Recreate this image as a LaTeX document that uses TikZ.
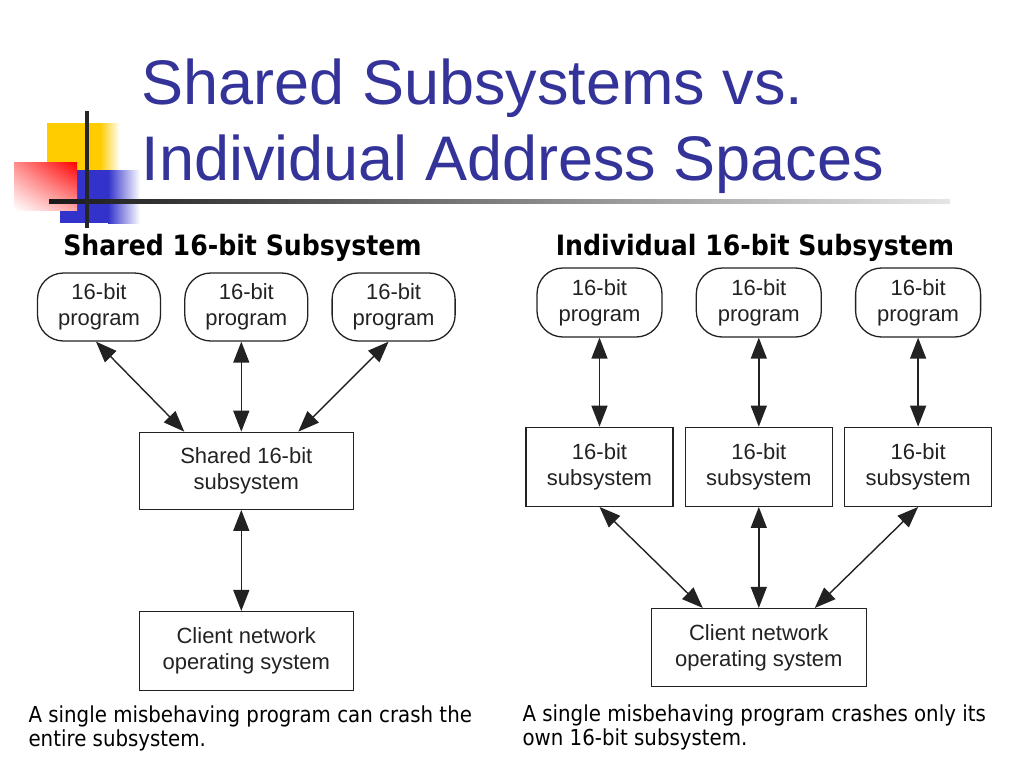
\documentclass[tikz,border=0pt]{standalone}
\usepackage{fontspec}
\setmainfont{Liberation Sans}
\newfontfamily\notizfont[FakeStretch=0.9]{DejaVu Sans}
\usetikzlibrary{positioning,arrows.meta,shadings}
\definecolor{titelblau}{RGB}{51,51,153}
\definecolor{logogelb}{RGB}{255,204,0}
\definecolor{logoblau}{RGB}{51,51,204}
\definecolor{strich}{RGB}{34,34,34}

\begin{document}
\begin{tikzpicture}
  [x=1pt,y=-1pt,
  prog/.style={rectangle, minimum width=123pt, minimum height=68pt, rounded corners=26pt, line width=1.3pt, draw=strich, text=strich, align=center, font=\fontsize{22}{26}\selectfont},
  kasten/.style={rectangle, minimum height=78pt, line width=1.3pt, draw=strich, text=strich, align=center, font=\fontsize{22}{26}\selectfont},
  verbindung/.style={line width=1.4pt, draw=strich, {Triangle[length=21pt,width=16pt]}-{Triangle[length=21pt,width=16pt]}},
  kopf/.style={anchor=base, font=\notizfont\bfseries\fontsize{28}{32}\selectfont},
  notiz/.style={anchor=base west, align=left, font=\notizfont\fontsize{22}{24}\selectfont}]
  \useasboundingbox (0,0) rectangle (1024,768);
  % logo
  \fill[logogelb] (47,123) rectangle (100,195);
  \shade[left color=logogelb, right color=white] (100,123) rectangle (120,195);
  \fill[logoblau] (60,170) rectangle (108,223);
  \shade[left color=logoblau, right color=white] (108,170) rectangle (140,223);
  \shade[upper left=red!45, upper right=red, lower left=white, lower right=red!35] (14,162) rectangle (77,210);
  \shade[left color=black!90, right color=black!10] (49,199) rectangle (950,203);
  \fill[black!85] (85,111) rectangle (89,228);
  \node (Titel) [anchor=base west, align=left, text=titelblau, font=\fontsize{63}{76}\selectfont] at (138,180) {Shared Subsystems vs.\\Individual Address Spaces};
  % shared
  \node (Kopf1) [kopf] at (242.5,255) {Shared 16-bit Subsystem};
  \node (Prog1) [prog] at (99,307) {16-bit\\program};
  \node (Prog2) [prog, right=23pt of Prog1] {16-bit\\program};
  \node (Prog3) [prog, right=23pt of Prog2] {16-bit\\program};
  \node (Shared) [kasten, minimum width=214pt, minimum height=77pt, below=90pt of Prog2] {Shared 16-bit\\subsystem};
  \node (Client1) [kasten, minimum width=214pt, minimum height=79pt, below=101pt of Shared] {Client network\\operating system};
  \draw[verbindung] ([xshift=-3pt]Prog1.south) -- ([xshift=-62pt]Shared.north);
  \draw[verbindung] ([xshift=-5pt]Prog2.south) -- ([xshift=-5pt]Shared.north);
  \draw[verbindung] ([xshift=-5pt]Prog3.south) -- ([xshift=52pt]Shared.north);
  \draw[verbindung] ([xshift=-5pt]Shared.south) -- ([xshift=-5pt]Client1.north);
  \node (Notiz1) [notiz] at (25,746) {A single misbehaving program can crash the\\entire subsystem.};
  % individual
  \node (Kopf2) [kopf] at (755,255) {Individual 16-bit Subsystem};
  \node (Prog4) [prog, minimum width=125pt, minimum height=69pt] at (599.5,302.5) {16-bit\\program};
  \node (Prog5) [prog, minimum width=125pt, minimum height=69pt, right=33pt of Prog4] {16-bit\\program};
  \node (Prog6) [prog, minimum width=125pt, minimum height=69pt, right=33pt of Prog5] {16-bit\\program};
  \node (Sub1) [kasten, minimum width=147pt, minimum height=79pt, below=89pt of Prog4] {16-bit\\subsystem};
  \node (Sub2) [kasten, minimum width=147pt, minimum height=79pt, below=89pt of Prog5] {16-bit\\subsystem};
  \node (Sub3) [kasten, minimum width=147pt, minimum height=79pt, below=89pt of Prog6] {16-bit\\subsystem};
  \node (Client2) [kasten, minimum width=215pt, minimum height=78pt, below=101pt of Sub2] {Client network\\operating system};
  \draw[verbindung] (Prog4) -- (Sub1);
  \draw[verbindung] (Prog5) -- (Sub2);
  \draw[verbindung] (Prog6) -- (Sub3);
  \draw[verbindung] (Sub1.south) -- ([xshift=-56pt]Client2.north);
  \draw[verbindung] (Sub2) -- (Client2);
  \draw[verbindung] (Sub3.south) -- ([xshift=56pt]Client2.north);
  \node (Notiz2) [notiz] at (519,745) {A single misbehaving program crashes only its\\own 16-bit subsystem.};
\end{tikzpicture}
\end{document}
